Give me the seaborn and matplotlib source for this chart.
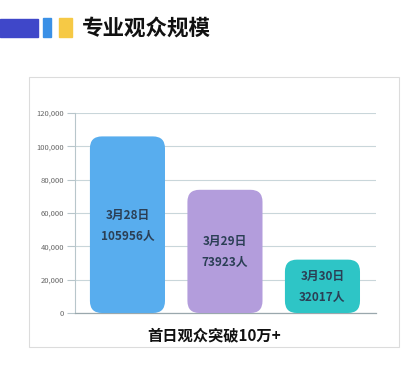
import matplotlib
matplotlib.use("Agg")
import matplotlib.pyplot as plt
import seaborn as sns
import pandas as pd
from matplotlib.patches import FancyBboxPatch, Rectangle
from matplotlib.ticker import FuncFormatter

# data
dates = ["3月28日", "3月29日", "3月30日"]
visitors = [105956, 73923, 32017]
bar_colors = ["#58adee", "#b39ddc", "#2ec5c6"]
y_ticks = [0, 20000, 40000, 60000, 80000, 100000, 120000]
title = "专业观众规模"
caption = "首日观众突破10万+"

sns.set_theme(style="white")
plt.rcParams['font.family'] = ['Noto Sans CJK SC', 'DejaVu Sans']

df = pd.DataFrame({"date": dates, "visitors": visitors})

fig = plt.figure(figsize=(4.19, 3.81), dpi=100)
fig.patch.set_facecolor("white")

# header decoration
fig.patches.append(Rectangle((0, 1 - 37 / 381), 38 / 419, 18 / 381,
                             transform=fig.transFigure, color="#3f47c9", zorder=1))
fig.patches.append(Rectangle((43 / 419, 1 - 37 / 381), 8 / 419, 19 / 381,
                             transform=fig.transFigure, color="#3a90e6", zorder=1))
fig.patches.append(Rectangle((59 / 419, 1 - 37 / 381), 13 / 419, 19 / 381,
                             transform=fig.transFigure, color="#f6c945", zorder=1))
fig.text(82 / 419, 1 - 28 / 381, title, fontsize=15.5, fontweight="bold",
         color="#111111", va="center", ha="left")

# panel box
fig.patches.append(Rectangle((29 / 419, 1 - 347 / 381), 370 / 419, 270 / 381,
                             transform=fig.transFigure, facecolor="none",
                             edgecolor="#dcdcdc", lw=0.8, zorder=-1))

ax = fig.add_axes([75 / 419, 68 / 381, 301 / 419, 200 / 381])
ax.set_facecolor("none")
sns.barplot(data=df, x="date", y="visitors", hue="date", palette=bar_colors,
            saturation=1, width=0.77, legend=False, ax=ax, zorder=3)
x_lo, x_hi = -0.538, 2.549
ax.set_xlim(x_lo, x_hi)
ax.set_ylim(0, 120000)

# rounded bars
px_x = 301 / (x_hi - x_lo)
px_y = 200 / 120000
radius = 12
for p in list(ax.patches):
    x, y = p.get_x(), p.get_y()
    w, h = p.get_width(), p.get_height()
    fc = p.get_facecolor()
    p.remove()
    r = radius / px_x
    box = FancyBboxPatch((x, y), w, h,
                         boxstyle=f"round,pad=0,rounding_size={r}",
                         mutation_aspect=(radius / px_y) / r,
                         facecolor=fc, edgecolor="none", zorder=3)
    ax.add_patch(box)

for i, (d, v) in enumerate(zip(dates, visitors)):
    ax.text(i, v / 2 + 5800, d, ha="center", va="center", fontsize=8.5,
            fontweight="bold", color="#2b3f55", zorder=4)
    ax.text(i, v / 2 - 6800, f"{v}人", ha="center", va="center", fontsize=8.5,
            fontweight="bold", color="#2b3f55", zorder=4)

ax.set_yticks(y_ticks)
ax.yaxis.set_major_formatter(FuncFormatter(lambda v, _: f"{int(v):,}"))
ax.grid(axis="y", color="#c9d6da", lw=0.8, zorder=0)
ax.tick_params(axis="y", length=6, width=0.8, color="#b8c6cb", labelsize=5.5,
               labelcolor="#666666", pad=2, left=True)
ax.tick_params(axis="x", length=0, labelbottom=False)
ax.set_xlabel("")
ax.set_ylabel("")
for s in ["top", "right"]:
    ax.spines[s].set_visible(False)
ax.spines["left"].set_color("#b8c6cb")
ax.spines["left"].set_linewidth(0.8)
ax.spines["bottom"].set_color("#9aa8ad")
ax.spines["bottom"].set_linewidth(0.9)

fig.text(214 / 419, 1 - 335 / 381, caption, fontsize=11, fontweight="bold",
         color="#111111", ha="center", va="center")

fig.savefig("out.png", dpi=100)
